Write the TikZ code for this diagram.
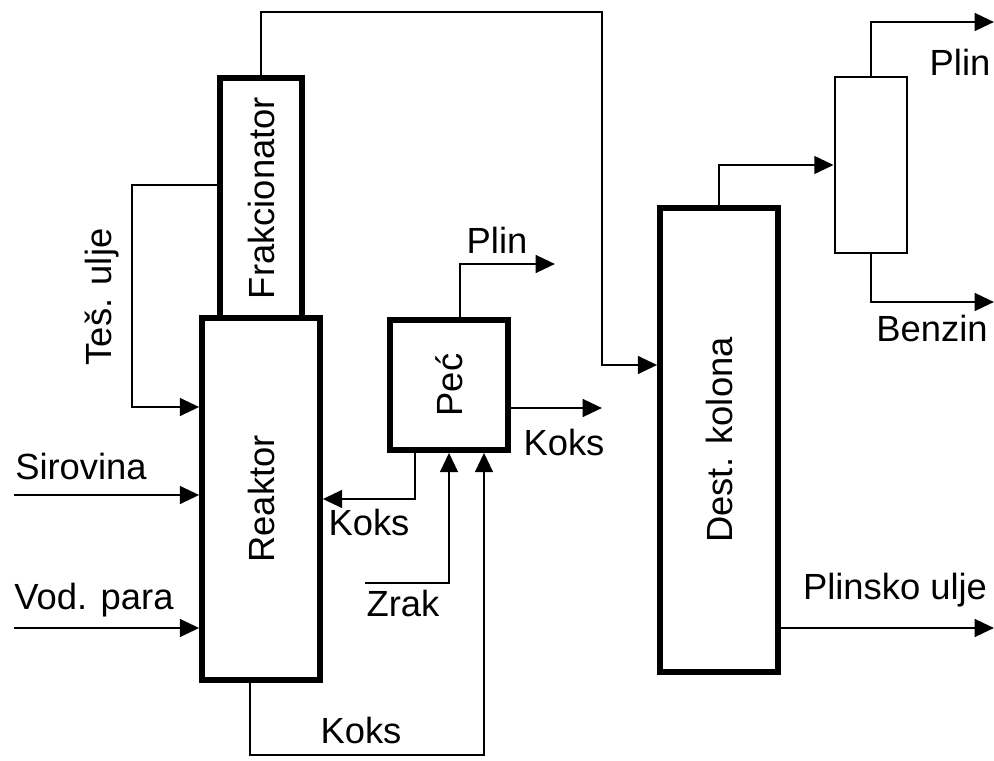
\documentclass[tikz,border=0pt]{standalone}
\usepackage{fontspec}
\setmainfont{Liberation Sans}
\usetikzlibrary{arrows.meta}

\begin{document}
\begin{tikzpicture}[
  unit/.style={draw, line width=3.2pt, inner sep=0pt},
  vessel/.style={draw, line width=1.6pt, inner sep=0pt},
  flow/.style={line width=1.6pt},
  feed/.style={flow, -{Triangle[length=11pt,width=10pt]}},
  every node/.style={font=\fontsize{20.7}{24}\selectfont}
]
\useasboundingbox (0,0) rectangle (19.88,15.2);

% units
\node[unit, minimum width=1.64cm, minimum height=4.8cm] (frak) at (5.22,11.24) {\rotatebox{90}{Frakcionator}};
\node[unit, minimum width=2.36cm, minimum height=7.24cm] (reak) at (5.22,5.22) {\rotatebox{90}{Reaktor}};
\node[unit, minimum width=2.36cm, minimum height=2.6cm] (pec) at (8.98,7.5) {\rotatebox{90}{Peć}};
\node[unit, minimum width=2.36cm, minimum height=9.28cm] (dest) at (14.38,6.4) {\rotatebox{90}{Dest. kolona}};
\node[vessel, minimum width=1.44cm, minimum height=3.52cm] (col) at (17.42,11.9) {};

% labels
\node (tes-lbl) at (2.04,9.26) {\rotatebox{90}{Teš. ulje}};
\node (sir-lbl) at (1.62,5.88) {Sirovina};
\node (vod-lbl) at (1.88,3.2) {Vod. para};
\node (plin-lbl) at (9.94,10.4) {Plin};
\node (koks-lbl1) at (11.28,6.36) {Koks};
\node (koks-lbl2) at (7.38,4.76) {Koks};
\node (zrak-lbl) at (8.06,3.14) {Zrak};
\node (koks-lbl3) at (7.22,0.6) {Koks};
\node (plin2-lbl) at (19.2,13.96) {Plin};
\node (benz-lbl) at (18.64,8.64) {Benzin};
\node (plu-lbl) at (17.9,3.4) {Plinsko ulje};

% free ends
\coordinate (top) at (12.04,14.96);
\coordinate (tes) at (2.64,7.06);
\coordinate (sir) at (0.28,5.3);
\coordinate (vod) at (0.28,2.64);
\coordinate (zrak) at (7.3,3.54);
\coordinate (bot) at (9.68,0.1);
\coordinate (pecplin) at (11.1,9.92);
\coordinate (peckoks) at (12.04,7.04);
\coordinate (plinE) at (19.88,14.76);
\coordinate (benzE) at (19.88,9.16);
\coordinate (pluE) at (19.88,2.64);

% streams
\draw[feed] (frak.north) |- (top) |- ([yshift=1.5cm]dest.west);
\draw[feed] ([yshift=0.26cm]frak.west) -| (tes) -- (tes -| reak.west);
\draw[feed] (sir) -- (sir -| reak.west);
\draw[feed] (vod) -- (vod -| reak.west);
\draw[feed] ([xshift=0.22cm]pec.north) |- (pecplin);
\draw[feed] ([yshift=-0.46cm]pec.east) -- (peckoks);
\draw[feed] ([xshift=-0.68cm]pec.south) |- (reak.east);
\draw[feed] (zrak) -| (pec.south);
\draw[feed] ([xshift=-0.22cm]reak.south) |- (bot) -- (bot |- pec.south);
\draw[feed] (dest.north) |- (col.west);
\draw[feed] (col.north) |- (plinE);
\draw[feed] (col.south) |- (benzE);
\draw[feed] (pluE -| dest.east) -- (pluE);

\end{tikzpicture}
\end{document}
